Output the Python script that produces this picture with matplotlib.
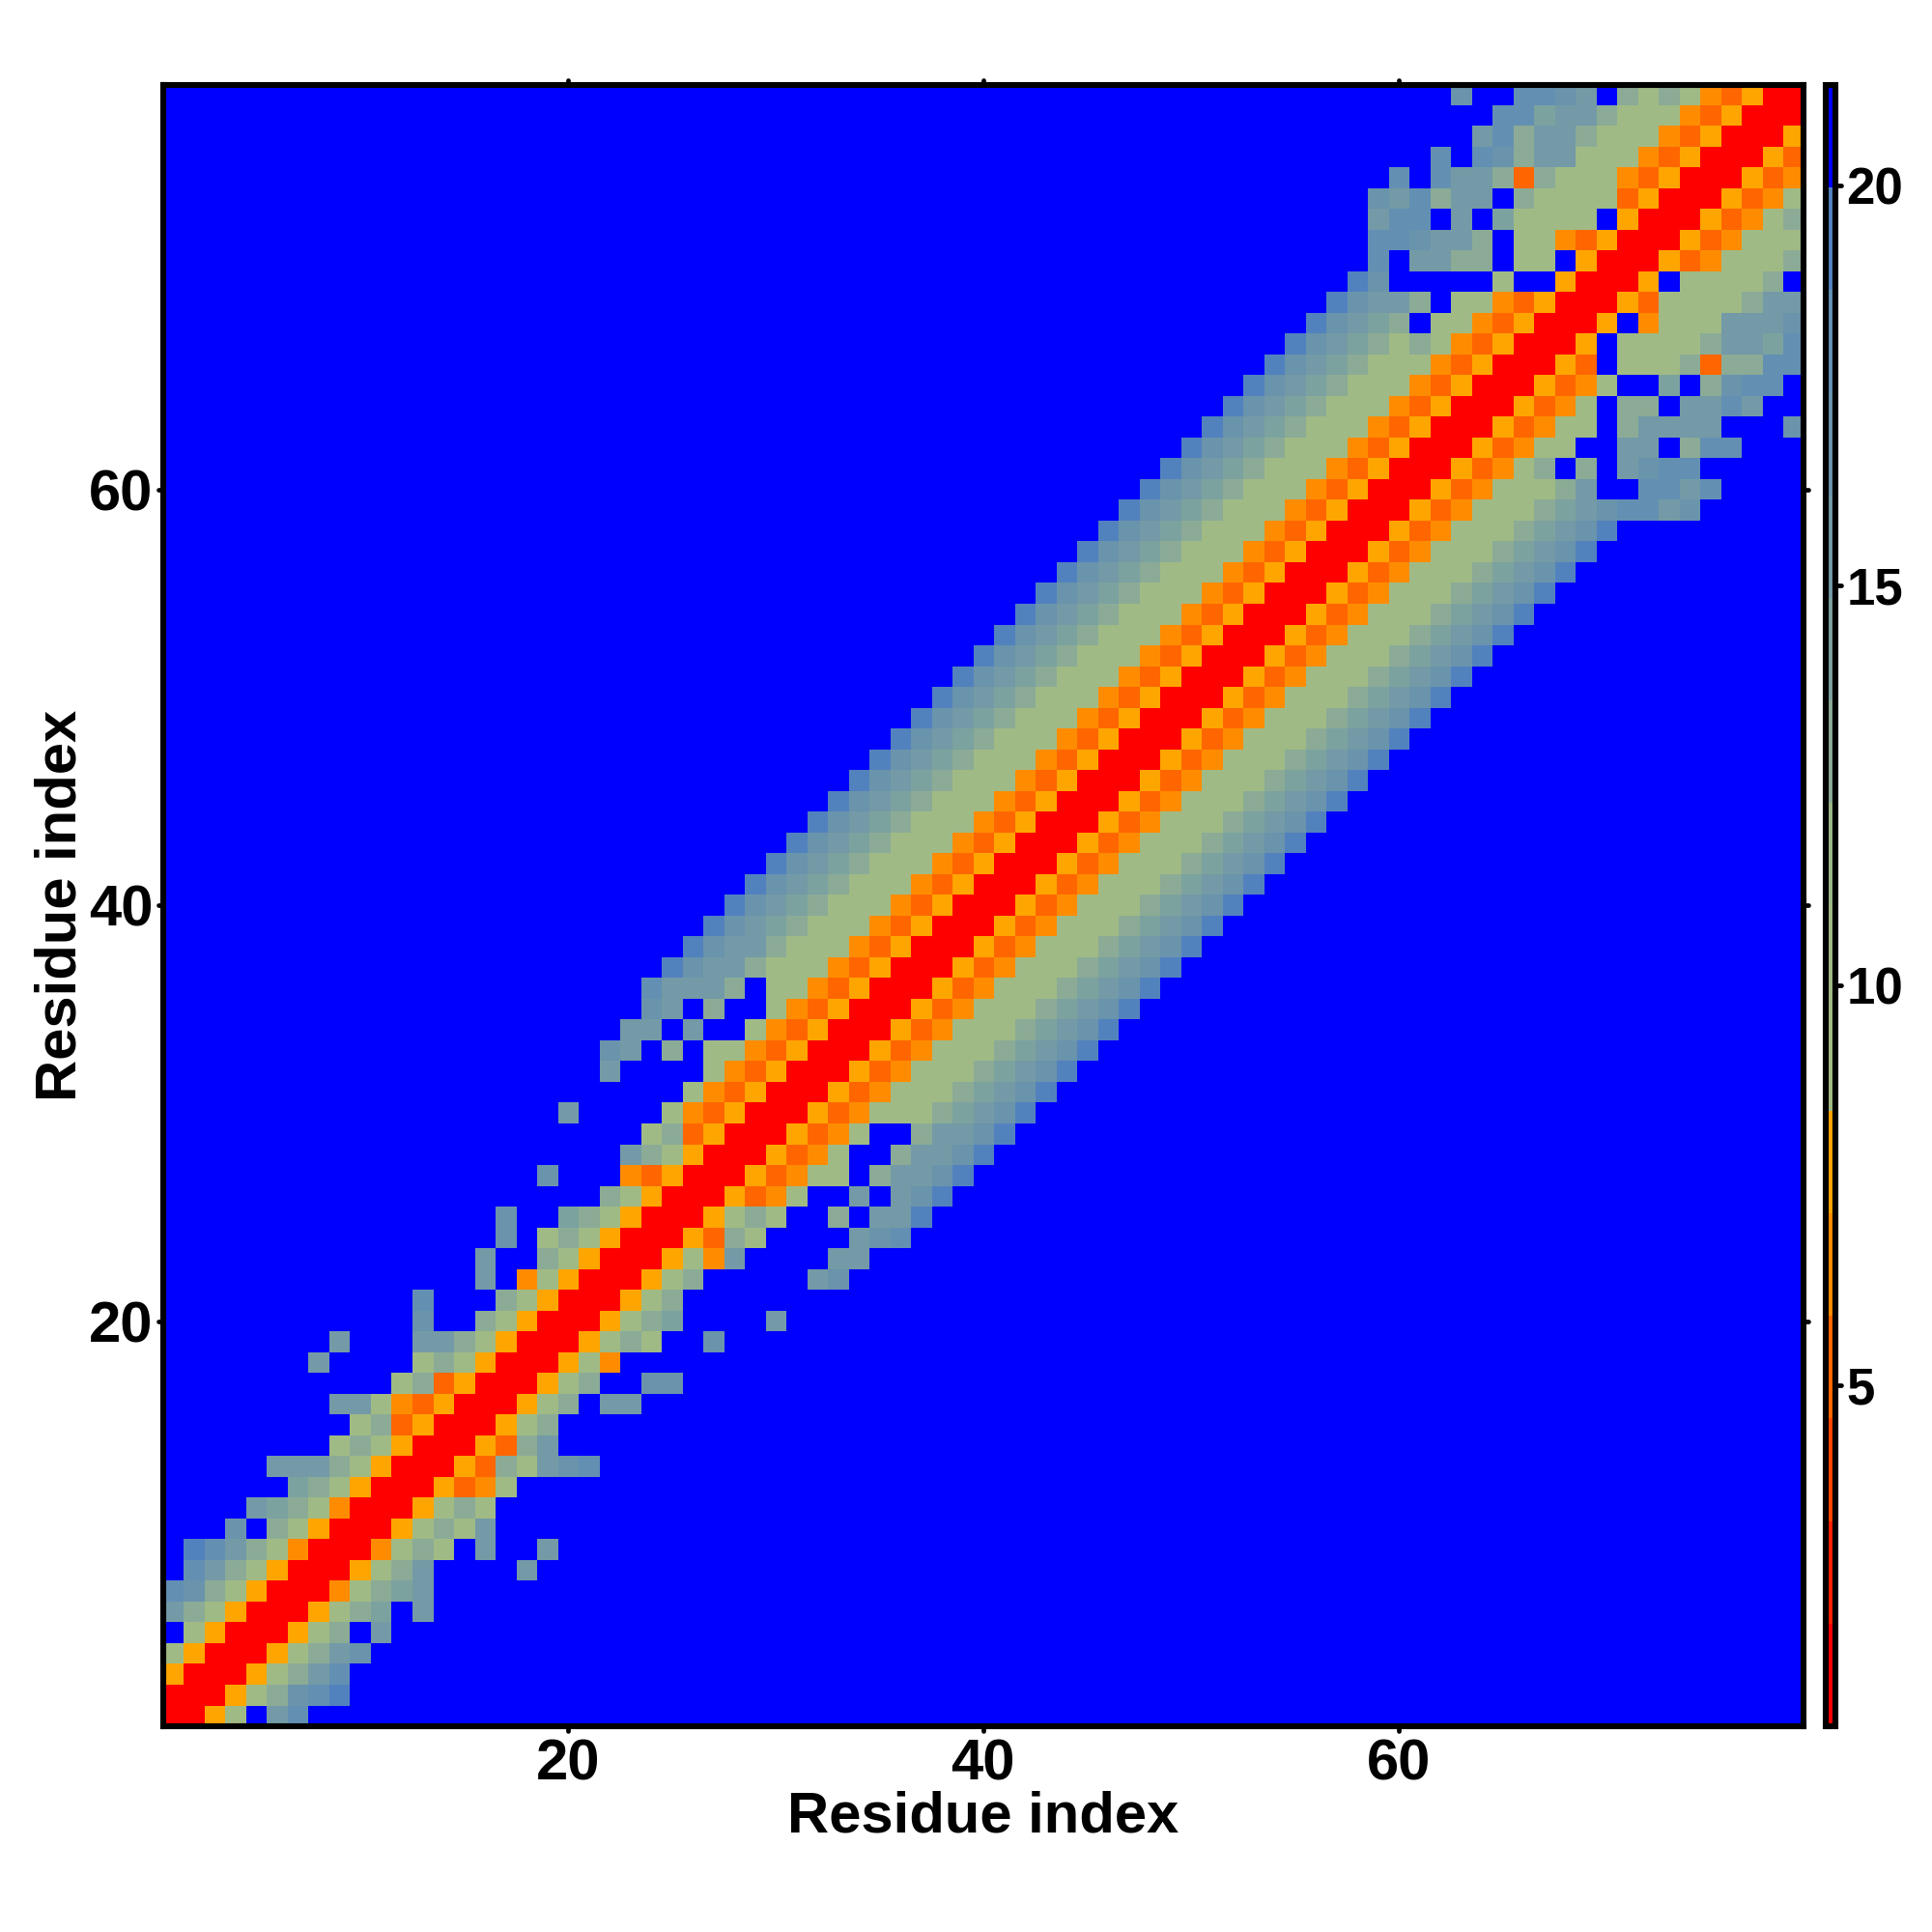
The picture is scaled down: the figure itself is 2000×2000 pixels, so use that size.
#!/usr/bin/env python3
"""Residue distance map with a stepped colour bar."""
import matplotlib; matplotlib.use('Agg')
import matplotlib.pyplot as plt
from matplotlib.colors import ListedColormap
from matplotlib.markers import MarkerStyle, TICKLEFT, TICKRIGHT, TICKUP, TICKDOWN
import numpy as np

plt.rcParams['font.family'] = ['Liberation Sans', 'DejaVu Sans']
plt.rcParams['font.weight'] = 'bold'

N_RES = 79
NO_DATA = 21    # blue: far apart
DIAG = 1

# distance from residue i to i+1, i+2, ... (one row per residue)
dist_rows = [
    [2,8,10,21,15,18],
    [2,8,10,13,17,18,19],
    [2,8,10,13,15,18],
    [2,8,10,13,15,17],
    [2,8,10,13,21,15],
    [2,8,10,13,14,21,15],
    [2,7,10,13,14,15],
    [2,8,10,13,15,21,21,21,21,15],
    [2,7,10,13,10,21,15,21,21,15],
    [2,8,10,13,10,15],
    [2,8,10,13,10],
    [2,8,5,7,10],
    [2,8,5,13,10,15,17,18],
    [2,8,5,13,15],
    [2,8,10,13],
    [2,8,10,13,21,15,15],
    [2,8,10,13,21,21,17,17],
    [2,8,10,7],
    [2,8,10,13,10,21,21,17],
    [2,8,10,13,14,21,21,21,21,15],
    [2,8,10,13],
    [2,8,10,13,21,21,21,21,21,15,17],
    [2,8,10,7,15,21,21,21,21,15,16],
    [2,8,5,13,10,21,21,21,21,15,17,18],
    [2,8,10,13,10,21,21,13,21,15,16,19],
    [2,8,5,7,10,21,21,15,21,15,17,19],
    [2,8,5,7,10,10,21,13,15,15,17,19],
    [2,8,5,7,10,21,21,13,15,15,17,19],
    [2,8,5,7,10,21,21,13,15,15,17,19],
    [2,8,5,7,10,10,10,13,14,15,17,19],
    [2,8,5,7,10,10,10,13,14,15,17,19],
    [2,8,5,7,10,10,10,13,14,15,17,19],
    [2,8,5,7,10,10,10,13,14,15,17,19],
    [2,8,5,7,10,10,10,13,14,15,17,19],
    [2,8,5,7,10,10,10,13,14,15,17,19],
    [2,8,5,7,10,10,10,13,14,15,17,19],
    [2,8,5,7,10,10,10,13,14,15,17,19],
    [2,8,5,7,10,10,10,13,14,15,17,19],
    [2,8,5,7,10,10,10,13,14,15,17,19],
    [2,8,5,7,10,10,10,13,14,15,17,19],
    [2,8,5,7,10,10,10,13,14,15,17,19],
    [2,8,5,7,10,10,10,13,14,15,17,19],
    [2,8,5,7,10,10,10,13,14,15,17,19],
    [2,8,5,7,10,10,10,13,14,15,17,19],
    [2,8,5,7,10,10,10,13,14,15,17,19],
    [2,8,5,7,10,10,10,13,14,15,17,19],
    [2,8,5,7,10,10,10,13,14,15,17,19],
    [2,8,5,7,10,10,10,13,14,15,17,19],
    [2,8,5,7,10,10,10,13,14,15,17,19],
    [2,8,5,7,10,10,10,13,14,15,17,19],
    [2,8,5,7,10,10,10,13,14,15,17,19],
    [2,8,5,7,10,10,10,13,14,15,17,19],
    [2,8,5,7,10,10,10,13,14,15,17,19],
    [2,8,5,7,10,10,10,13,14,15,17,19],
    [2,8,5,7,10,10,10,13,14,15,17,19],
    [2,8,5,7,10,10,10,13,14,15,17,19],
    [2,8,5,7,10,10,10,13,14,15,17,19],
    [2,8,5,7,10,10,10,13,14,15,17,19],
    [2,8,5,7,10,10,10,13,14,15,17,18,18,15,17],
    [2,8,5,7,10,10,10,13,15,21,21,18,18,15,18],
    [2,8,5,7,10,13,21,13,21,15,17,18,18],
    [2,8,5,7,10,10,21,21,15,15,21,13,18,18],
    [2,8,5,7,10,10,21,13,15,15,15,15,21,21,21,17],
    [2,8,5,7,10,21,13,13,21,15,15,18,15],
    [2,8,5,7,10,21,21,14,21,13,17,18,18],
    [2,8,5,21,10,10,10,13,5,13,13,18,18],
    [2,8,21,10,10,10,10,13,15,15,14,18],
    [2,8,21,7,10,10,10,15,15,15,17],
    [2,8,5,10,10,10,10,13,15,15],
    [2,8,21,10,10,10,10,13,21],
    [2,8,5,7,10,10,10,13],
    [2,8,5,7,10,10,10],
    [2,8,5,7,10,13],
    [2,8,5,7,10],
    [2,8,5,7],
    [2,8,5],
    [2,8],
    [2],
]

axis_ticks = [20, 40, 60]
cbar_ticks = [5, 10, 15, 20]

# 16 steps, red at the bottom, blue on top
band_colors = ['#FF0000', '#FF2000', '#FF4500', '#FF6600', '#FF8C00', '#FFA500',
               '#A2BC84', '#A0BA85', '#9DB887', '#8BAB96', '#7CA29F', '#739AA6',
               '#6A93AC', '#6390B2', '#5282BE', '#0000FF']

# build the symmetric matrix
dist = np.full((N_RES, N_RES), float(NO_DATA))
np.fill_diagonal(dist, DIAG)
for i, row in enumerate(dist_rows):
    for k, v in enumerate(row):
        dist[i, i+k+1] = v
        dist[i+k+1, i] = v

# pixel layout of the 2000x2000 picture
W = 2000.0
def box(x0, x1, y0, y1):
    return [x0/W, 1-y1/W, (x1-x0)/W, (y1-y0)/W]

def round_ticks(axis, first, second):
    # the reference ticks end in a round blob
    for t in axis.get_major_ticks():
        t.tick1line.set_marker(MarkerStyle(first, capstyle='round'))
        t.tick2line.set_marker(MarkerStyle(second, capstyle='round'))

fig = plt.figure(figsize=(10, 10), dpi=200, facecolor='white')
ax = fig.add_axes(box(168.5, 1867, 88, 1787))
cax = fig.add_axes(box(1889.5, 1900.5, 88, 1787))

cmap = ListedColormap(band_colors)
im = ax.imshow(dist, origin='lower', cmap=cmap, vmin=0.74, vmax=21.26,
               extent=(0.5, N_RES+0.5, 0.5, N_RES+0.5), interpolation='nearest', aspect='auto')

ax.set_xticks(axis_ticks); ax.set_yticks(axis_ticks)
ax.tick_params(axis='both', which='major', direction='out', length=1.8, width=1.7,
               top=True, right=True, labelsize=21.5)
ax.tick_params(axis='x', pad=2.7)
ax.tick_params(axis='y', pad=1.8)
round_ticks(ax.xaxis, TICKDOWN, TICKUP)
round_ticks(ax.yaxis, TICKLEFT, TICKRIGHT)
for s in ax.spines.values():
    s.set_linewidth(2.2)

cb = fig.colorbar(im, cax=cax, ticks=cbar_ticks)
cb.outline.set_linewidth(2.2)
cb.ax.tick_params(length=2.2, width=1.7, labelsize=19, pad=1.8)
round_ticks(cb.ax.yaxis, TICKLEFT, TICKRIGHT)

fig.text(1018/W, 1-1881/W, 'Residue index', ha='center', va='center', fontsize=21.5, fontweight='bold')
fig.text(63/W, 1-937/W, 'Residue index', ha='center', va='center', rotation=90, fontsize=21.5, fontweight='bold')

fig.savefig('out.png', dpi=200, facecolor='white')
plt.close(fig)
